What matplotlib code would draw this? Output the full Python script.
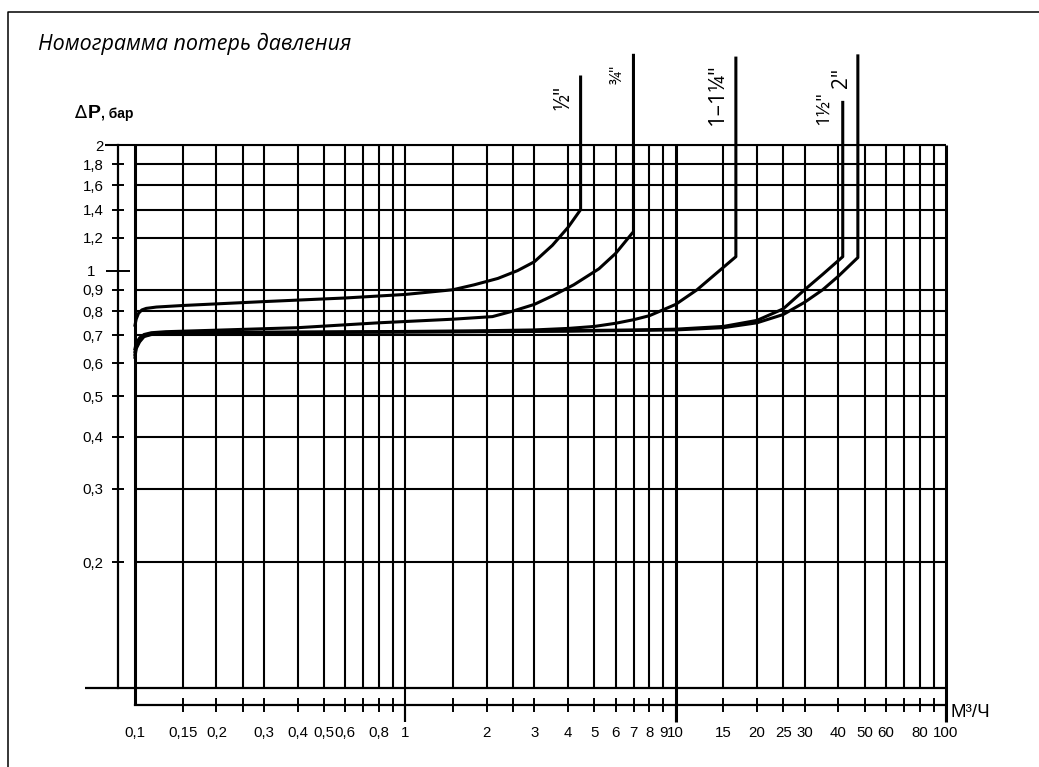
import numpy as np
import matplotlib
matplotlib.use("Agg")
import matplotlib.pyplot as plt
from matplotlib.ticker import FixedLocator, FixedFormatter
from matplotlib.lines import Line2D

# pressure loss nomogram (flow m3/h vs dP bar)
x_minor = [0.1, 0.15, 0.2, 0.25, 0.3, 0.4, 0.5, 0.6, 0.7, 0.8, 0.9,
           1.5, 2, 2.5, 3, 4, 5, 6, 7, 8, 9,
           15, 20, 25, 30, 40, 50, 60, 70, 80, 90]
x_minor_labels = ['0,1', '0,15', '0,2', '', '0,3', '0,4', '0,5', '0,6', '', '0,8', '',
                  '', '2', '', '3', '4', '5', '6', '7', '8', '9',
                  '15', '20', '25', '30', '40', '50', '60', '', '80', '']
x_major = [1, 10, 100]
x_major_labels = ['1', '10', '100']

y_grid = [0.2, 0.3, 0.4, 0.5, 0.6, 0.7, 0.8, 0.9, 1.2, 1.4, 1.6, 1.8, 2]
y_minor_labels = ['0,2', '0,3', '0,4', '0,5', '0,6', '0,7', '0,8', '0,9',
                  '1,2', '1,4', '1,6', '1,8', '2']

# curves: flow (m3/h) and pressure drop (bar)
half_x = [0.1, 0.101, 0.103, 0.106, 0.11, 0.12, 0.15, 0.3, 0.6, 1.0, 1.5, 1.8,
          2.2, 2.6, 3.0, 3.5, 4.0, 4.45, 4.45]
half_y = [0.74, 0.765, 0.79, 0.805, 0.812, 0.818, 0.825, 0.843, 0.86, 0.877, 0.9,
          0.925, 0.958, 1.0, 1.05, 1.15, 1.27, 1.40, 2.91]

three_q_x = [0.1, 0.101, 0.104, 0.108, 0.115, 0.13, 0.2, 0.4, 0.8, 1.5, 2.1,
             2.5, 3.0, 3.5, 4.2, 5.2, 6.0, 6.98, 6.98]
three_q_y = [0.65, 0.67, 0.69, 0.703, 0.71, 0.714, 0.72, 0.73, 0.75, 0.765, 0.776,
             0.80, 0.83, 0.87, 0.925, 1.01, 1.10, 1.24, 3.28]

one_x = [0.1, 0.101, 0.104, 0.108, 0.115, 0.13, 0.2, 0.5, 1, 2, 3, 4, 5, 6, 7, 8,
         10, 12, 14, 16.7, 16.7]
one_y = [0.63, 0.655, 0.68, 0.697, 0.705, 0.709, 0.711, 0.713, 0.715, 0.718, 0.721,
         0.727, 0.735, 0.748, 0.763, 0.78, 0.83, 0.9, 0.98, 1.08, 3.23]

one_half_x = [0.1, 0.101, 0.104, 0.108, 0.115, 0.13, 0.2, 0.5, 1, 2, 4, 7, 10,
              15, 20, 25, 30, 35, 41.5, 41.5]
one_half_y = [0.62, 0.65, 0.675, 0.695, 0.703, 0.707, 0.709, 0.711, 0.713, 0.715,
              0.718, 0.721, 0.724, 0.735, 0.76, 0.81, 0.90, 0.98, 1.08, 2.53]

two_x = [0.1, 0.101, 0.104, 0.108, 0.115, 0.13, 0.2, 0.5, 1, 2, 4, 7, 10,
         15, 20, 25, 30, 35, 40, 47.2, 47.2]
two_y = [0.64, 0.66, 0.685, 0.70, 0.706, 0.709, 0.711, 0.712, 0.713, 0.714,
         0.716, 0.719, 0.721, 0.73, 0.75, 0.785, 0.84, 0.90, 0.97, 1.075, 3.27]

curves = [(half_x, half_y), (three_q_x, three_q_y), (one_x, one_y),
          (one_half_x, one_half_y), (two_x, two_y)]
curve_labels = ['½"', '¾"', '1–1¼"', '1½"', '2"']

W, H = 1039, 767
PT = 72 / 100  # points per pixel


def fx(px):
    return px / W


def fy(py):
    return 1 - py / H


fig = plt.figure(figsize=(W / 100, H / 100), dpi=100)
ax = fig.add_axes([fx(135), fy(688), (946 - 135) / W, (688 - 145) / H])
ax.set_xscale('log')
ax.set_yscale('log')
ax.set_xlim(0.1, 100)
ax.set_ylim(0.1, 2)
ax.patch.set_visible(False)

for s in ['top', 'right']:
    ax.spines[s].set_visible(False)
ax.spines['left'].set_position(('outward', 17 * PT))
ax.spines['left'].set_bounds(0.1, 2)
ax.spines['bottom'].set_position(('outward', 17 * PT))
ax.spines['bottom'].set_bounds(0.1, 100)
for s in ['left', 'bottom']:
    ax.spines[s].set_linewidth(1.6)

# grid
ax.hlines(y_grid, 0.1, 100, color='k', lw=1.5)
ax.vlines(x_minor[1:], 0.1, 2, color='k', lw=1.5)
ax.hlines(2, (105 - 135) / 811, 1, transform=ax.get_yaxis_transform(),
          color='k', lw=1.5, clip_on=False)
ax.hlines(0.1, (85 - 135) / 811, 1, transform=ax.get_yaxis_transform(),
          color='k', lw=1.6, clip_on=False)
ax.vlines([1], (688 - 722) / 543, 1, transform=ax.get_xaxis_transform(),
          color='k', lw=1.5, clip_on=False)
ax.vlines([10, 100], (688 - 722) / 543, 1, transform=ax.get_xaxis_transform(),
          color='k', lw=2.2, clip_on=False)
ax.vlines([0.1], (688 - 705) / 543, 1, transform=ax.get_xaxis_transform(),
          color='k', lw=2.2, clip_on=False)

# x axis ticks
ax.xaxis.set_major_locator(FixedLocator(x_major))
ax.xaxis.set_major_formatter(FixedFormatter(x_major_labels))
ax.xaxis.set_minor_locator(FixedLocator(x_minor))
ax.xaxis.set_minor_formatter(FixedFormatter(x_minor_labels))
ax.tick_params(axis='x', which='minor', direction='inout', length=14 * PT, width=1.4,
               pad=10.0, labelsize=10.8)
ax.tick_params(axis='x', which='major', direction='out', length=17 * PT, width=1.5,
               pad=3.0, labelsize=10.8)
ax.xaxis.get_minor_ticks()[0].tick1line.set_visible(False)

# y axis ticks
ax.yaxis.set_major_locator(FixedLocator([1]))
ax.yaxis.set_major_formatter(FixedFormatter(['1']))
ax.yaxis.set_minor_locator(FixedLocator(y_grid))
ax.yaxis.set_minor_formatter(FixedFormatter(y_minor_labels))
ax.tick_params(axis='y', which='minor', direction='inout', length=12 * PT, width=1.4,
               pad=6.3, labelsize=10.8)
ax.tick_params(axis='y', which='major', direction='inout', length=24 * PT, width=1.4,
               pad=7.6, labelsize=10.8)
for lab in ax.get_xticklabels(which='both') + ax.get_yticklabels(which='both'):
    lab.set_family('Liberation Sans')

# curves
for (cx, cy) in curves:
    ax.plot(cx, cy, color='k', lw=2.2, clip_on=False, solid_joinstyle='round')

# curve labels (rotated)
label_pos = [(564, 98, 15), (618, 74, 12), (717, 94, 16), (823, 108, 14), (841, 78, 15)]
for text, (px, py, fs) in zip(curve_labels, label_pos):
    fig.text(fx(px), fy(py), text, rotation=90, ha='center', va='center',
             fontsize=fs, family='Open Sans')

# title and axis labels
fig.text(fx(38), fy(50), 'Номограмма потерь давления', fontsize=15.5,
         style='italic', family='Open Sans', va='baseline')
fig.text(fx(74), fy(118), '∆', fontsize=13, family='DejaVu Sans', va='baseline')
fig.text(fx(88), fy(118), 'P', fontsize=14, weight='bold',
         family='Liberation Sans', va='baseline')
fig.text(fx(101), fy(118), ', бар', fontsize=10, weight='bold',
         family='Liberation Sans', va='baseline')
fig.text(fx(951), fy(717), 'М³/Ч', fontsize=13.5, family='Liberation Sans',
         va='baseline')

# outer frame
fig.add_artist(Line2D([fx(8), fx(8), fx(1100)], [fy(800), fy(12), fy(12)],
                      transform=fig.transFigure, color='k', lw=1.1))

fig.savefig('out.png', dpi=100)
